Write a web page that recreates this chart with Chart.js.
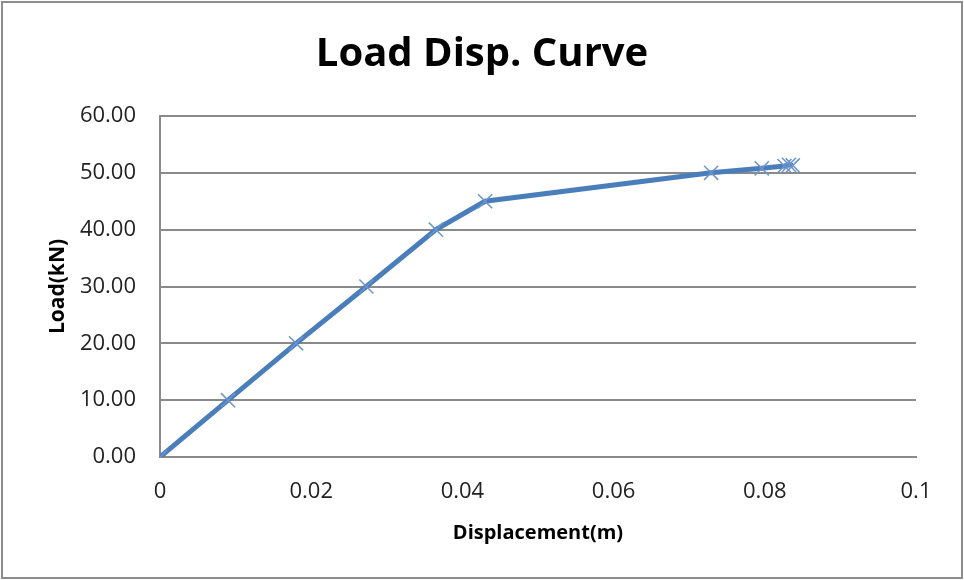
<!DOCTYPE html>
<html>
<head>
<meta charset="utf-8">
<script src="https://cdn.jsdelivr.net/npm/chart.js@4/dist/chart.umd.min.js"></script>
<style>
  html, body { margin: 0; padding: 0; background: #fff; }
  #wrap { width: 964px; height: 580px; }
</style>
</head>
<body>
<div id="wrap"><canvas id="chart" width="964" height="580"></canvas></div>
<script>
// Load vs displacement readings
const displacement = [0, 0.009, 0.018, 0.0273, 0.0365, 0.043, 0.0729, 0.0796, 0.0826, 0.0832, 0.0837]
const load = [0, 10, 20, 30, 40, 45, 50, 50.8, 51.2, 51.4, 51.3]

const xTicks = [0, 0.02, 0.04, 0.06, 0.08, 0.1]
const yTicks = [0, 10, 20, 30, 40, 50, 60]

const points = displacement.map((d, i) => ({ x: d, y: load[i] }))

const fontFamily = "'Open Sans', 'Noto Sans', sans-serif"
const gridColor = '#8a8a8a'

// Outer frame around the whole chart
const framePlugin = {
  id: 'frame',
  afterDraw(chart) {
    const ctx = chart.ctx
    ctx.save()
    ctx.strokeStyle = '#8c8c8c'
    ctx.lineWidth = 2
    ctx.strokeRect(2, 2, chart.width - 4, chart.height - 4)
    ctx.restore()
  }
}

const ctx = document.getElementById('chart').getContext('2d')

new Chart(ctx, {
  type: 'scatter',
  data: {
    datasets: [
      {
        label: 'Load',
        data: points,
        showLine: true,
        borderColor: '#4a7ebb',
        borderWidth: 5,
        pointStyle: 'crossRot',
        pointRadius: 10,
        pointHoverRadius: 10,
        pointBorderWidth: 1.5,
        pointBorderColor: '#6b95cc',
        pointBackgroundColor: '#6b95cc',
        tension: 0,
      },
    ],
  },
  options: {
    responsive: false,
    animation: false,
    layout: {
      padding: 0,
    },
    plugins: {
      legend: { display: false },
      tooltip: { enabled: false },
      title: {
        display: true,
        text: 'Load Disp. Curve',
        color: '#000',
        font: { family: fontFamily, size: 40, weight: 'bold', lineHeight: 1.2 },
        padding: { top: 31, bottom: 37 },
      },
    },
    scales: {
      x: {
        type: 'linear',
        min: 0,
        max: 0.1,
        afterFit(scale) { scale.height = 123 },
        afterBuildTicks(scale) { scale.ticks = xTicks.map(v => ({ value: v })) },
        ticks: {
          padding: 22,
          color: '#222',
          font: { family: fontFamily, size: 22 },
          callback: v => String(Number(v.toFixed(2))),
          maxRotation: 0,
        },
        grid: { display: false, drawTicks: false },
        border: { display: true, color: gridColor, width: 2 },
        title: {
          display: true,
          text: 'Displacement(m)',
          color: '#000',
          font: { family: fontFamily, size: 20, weight: 'bold', lineHeight: 1.2 },
          padding: { top: 0, bottom: 35 },
        },
      },
      y: {
        type: 'linear',
        min: 0,
        max: 60,
        afterFit(scale) { scale.width = 160 },
        afterBuildTicks(scale) { scale.ticks = yTicks.map(v => ({ value: v })) },
        ticks: {
          padding: 24,
          color: '#222',
          font: { family: fontFamily, size: 22 },
          callback: v => v.toFixed(2),
        },
        grid: { color: gridColor, lineWidth: 2, drawTicks: false },
        border: { display: true, color: gridColor, width: 2 },
        title: {
          display: true,
          text: 'Load(kN)',
          color: '#000',
          font: { family: fontFamily, size: 21, weight: 'bold', lineHeight: 1.2 },
          padding: { top: 45, bottom: 0 },
        },
      },
      // empty right-hand strip so the title centres on the whole canvas
      yRight: {
        position: 'right',
        display: true,
        afterFit(scale) { scale.width = 48 },
        ticks: { display: false },
        grid: { display: false, drawTicks: false },
        border: { display: false },
      },
    },
  },
  plugins: [framePlugin],
})
</script>
</body>
</html>
